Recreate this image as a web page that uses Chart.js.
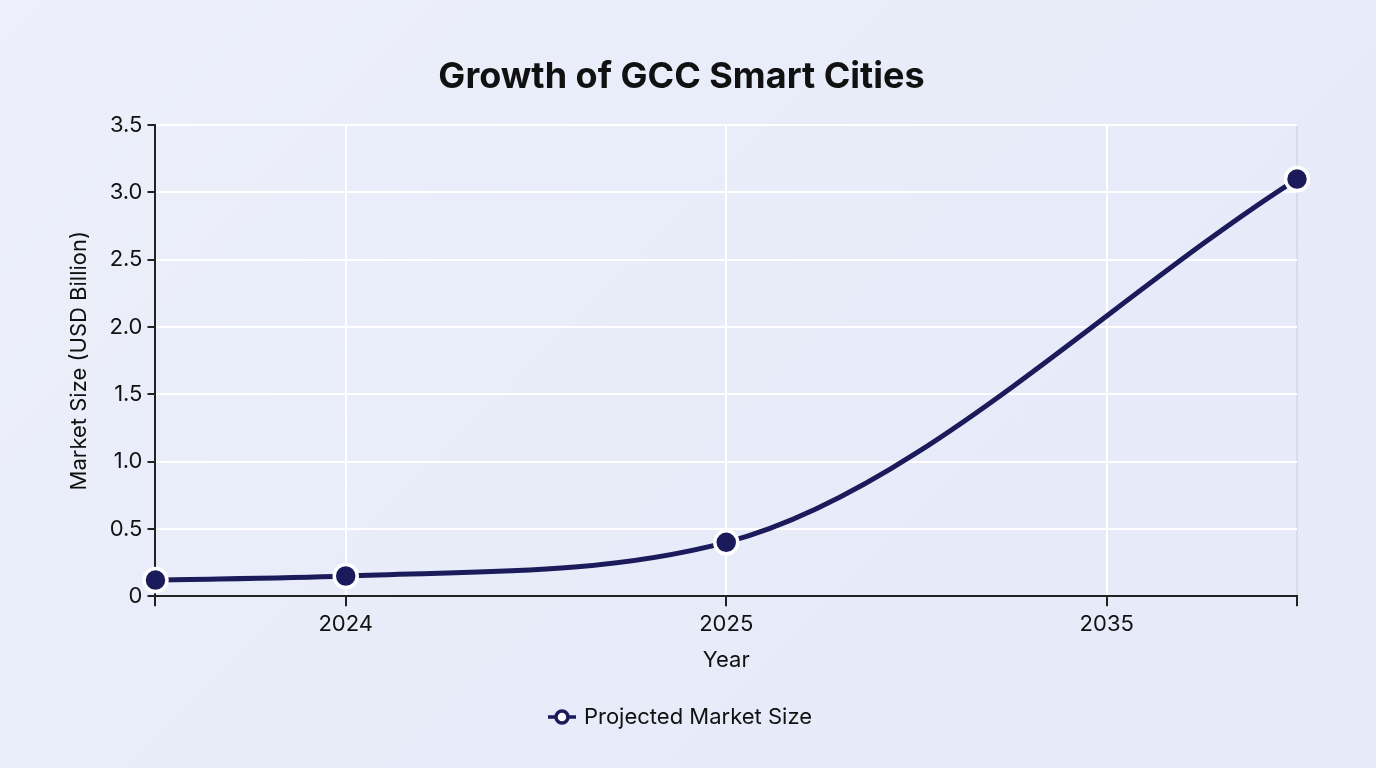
<!DOCTYPE html>
<html>
<head>
<meta charset="utf-8">
<script src="https://cdn.jsdelivr.net/npm/chart.js@4.4.1/dist/chart.umd.min.js"></script>
<style>
  html, body { margin: 0; padding: 0; }
  body {
    width: 1376px; height: 768px; overflow: hidden;
    background: linear-gradient(135deg, #edf0fa 0%, #e8ecf9 50%, #e6eaf9 100%);
  }
  #wrap { width: 1376px; height: 768px; position: relative; }
</style>
</head>
<body>
<div id="wrap"><canvas id="chart"></canvas></div>
<script>
// x positions on the axis (index-like units), year labels, values
const xPositions = [0, 1, 3, 6];
const marketSize = [0.12, 0.15, 0.4, 3.1];
const tickPositions = [0, 1, 3, 5, 6];
const tickLabels = ['', '2024', '2025', '2035', ''];

const NAVY = '#1b1b5c';
const FONT = 'Inter, "Noto Sans", sans-serif';

// legend marker: short line with hollow circle
const legendIcon = document.createElement('canvas');
legendIcon.width = 30;
legendIcon.height = 18;
(function () {
  const c = legendIcon.getContext('2d');
  c.strokeStyle = NAVY;
  c.lineWidth = 3.5;
  c.beginPath();
  c.moveTo(1, 9);
  c.lineTo(29, 9);
  c.stroke();
  c.fillStyle = '#ffffff';
  c.beginPath();
  c.arc(15, 9, 6, 0, Math.PI * 2);
  c.fill();
  c.stroke();
})();

const ctx = document.getElementById('chart').getContext('2d');

new Chart(ctx, {
  type: 'line',
  data: {
    datasets: [
      {
        label: 'Projected Market Size',
        data: xPositions.map((x, i) => ({ x: x, y: marketSize[i] })),
        borderColor: NAVY,
        backgroundColor: NAVY,
        borderWidth: 5,
        cubicInterpolationMode: 'monotone',
        pointRadius: 11.5,
        pointHoverRadius: 11.5,
        pointBackgroundColor: NAVY,
        pointBorderColor: '#ffffff',
        pointBorderWidth: 3.5,
        clip: false
      }
    ]
  },
  options: {
    animation: false,
    responsive: true,
    maintainAspectRatio: false,
    layout: { padding: { left: 66, right: 79, top: 56, bottom: 30 } },
    scales: {
      x: {
        type: 'linear',
        min: 0,
        max: 6,
        afterBuildTicks(scale) {
          scale.ticks = tickPositions.map(v => ({ value: v }));
        },
        ticks: {
          color: '#111',
          font: { family: FONT, size: 22 },
          padding: 5,
          maxRotation: 0,
          autoSkip: false,
          callback(value) {
            const i = tickPositions.indexOf(value);
            return i >= 0 ? tickLabels[i] : '';
          }
        },
        grid: {
          color: ctx => (ctx.tick && ctx.tick.value === 6 ? '#d9dce6' : '#ffffff'),
          lineWidth: 2,
          tickColor: '#222',
          tickLength: 10
        },
        border: { color: '#222', width: 2 },
        title: {
          display: true,
          text: 'Year',
          color: '#111',
          font: { family: FONT, size: 22 },
          padding: { top: 5, bottom: 0 }
        }
      },
      y: {
        min: 0,
        max: 3.5,
        ticks: {
          stepSize: 0.5,
          color: '#111',
          font: { family: FONT, size: 22 },
          padding: 5,
          callback: v => (v === 0 ? '0' : v.toFixed(1))
        },
        grid: {
          color: '#ffffff',
          lineWidth: 2,
          tickColor: '#222',
          tickLength: 8
        },
        border: { color: '#222', width: 2 },
        title: {
          display: true,
          text: 'Market Size (USD Billion)',
          color: '#111',
          font: { family: FONT, size: 22 },
          padding: { top: 0, bottom: 12 }
        }
      }
    },
    plugins: {
      title: {
        display: true,
        text: 'Growth of GCC Smart Cities',
        color: '#111',
        font: { family: FONT, size: 36, weight: 'bold' },
        padding: { top: 0, bottom: 26 }
      },
      legend: {
        display: true,
        position: 'bottom',
        labels: {
          usePointStyle: true,
          pointStyle: legendIcon,
          color: '#111',
          font: { family: FONT, size: 22 },
          padding: 32
        }
      },
      tooltip: { enabled: false }
    }
  }
});
</script>
</body>
</html>
